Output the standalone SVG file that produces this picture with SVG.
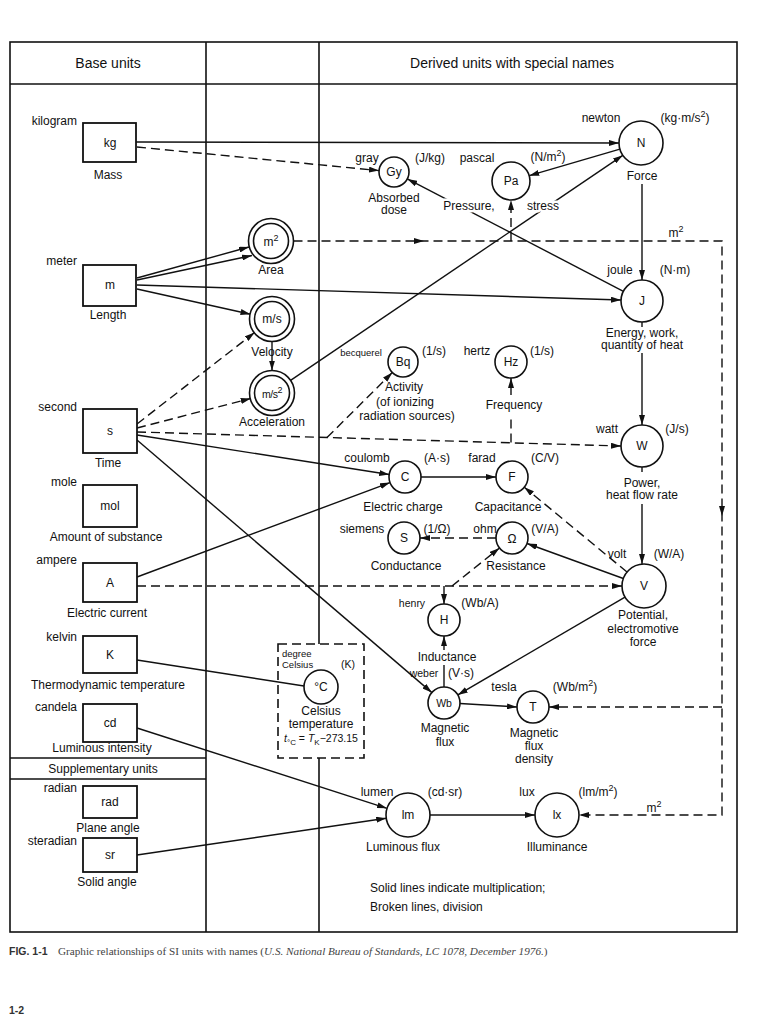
<svg xmlns="http://www.w3.org/2000/svg" width="768" height="1024" viewBox="0 0 768 1024">
<style>
text{font-family:"Liberation Sans","DejaVu Sans",sans-serif;font-size:12px;fill:#111}
.c{text-anchor:middle}
.e{text-anchor:end}
.h{font-size:14px}
.sm{font-size:10.5px}
.xs{font-size:9.5px}
.sup{font-size:9px}
.box{fill:#fff;stroke:#111;stroke-width:1.8}
.cir{fill:#fff;stroke:#111;stroke-width:1.6}
.fr{fill:none;stroke:#111;stroke-width:1.6}
.ln{fill:none;stroke:#111;stroke-width:1.4}
.ds{stroke-dasharray:9 5}
.halo{paint-order:stroke;stroke:#fff;stroke-width:5px;stroke-linejoin:round}
.ah{fill:#111;stroke:none}
</style>
<defs>
<marker id="a" viewBox="0 0 10 6" refX="10" refY="3" markerWidth="10" markerHeight="6" markerUnits="userSpaceOnUse" orient="auto">
<path d="M0,0 L10,3 L0,6 z" fill="#111"/>
</marker>
</defs>
<rect width="768" height="1024" fill="#fff"/>

<g id="frame">
<rect x="10" y="42" width="727" height="890" class="fr" stroke-width="1.8"/>
<line x1="10" y1="84" x2="737" y2="84" class="fr"/>
<line x1="206" y1="42" x2="206" y2="932" class="fr"/>
<line x1="319" y1="42" x2="319" y2="932" class="fr"/>
<line x1="10" y1="758" x2="206" y2="758" class="fr"/>
<line x1="10" y1="779" x2="206" y2="779" class="fr"/>
<text x="108" y="68" class="c h">Base units</text>
<text x="512" y="68" class="c h">Derived units with special names</text>
<text x="103" y="773" class="c">Supplementary units</text>
</g>

<g id="n-celsius">
<rect x="278" y="644" width="86" height="114" fill="#fff" stroke="#111" stroke-width="1.6" stroke-dasharray="9 5"/>
<text x="282" y="657" class="xs">degree</text>
<text x="282" y="668" class="xs">Celsius</text>
<text x="348" y="668" class="c sm">(K)</text>
<circle cx="321" cy="687" r="17" class="cir"/>
<text x="321" y="691" class="c">°C</text>
<text x="321" y="715" class="c">Celsius</text>
<text x="321" y="728" class="c">temperature</text>
<text x="321" y="742" class="c sm"><tspan font-style="italic">t</tspan><tspan font-size="8" dy="3">°C</tspan><tspan dy="-3"> = </tspan><tspan font-style="italic">T</tspan><tspan font-size="8" dy="3">K</tspan><tspan dy="-3">−273.15</tspan></text>
</g>

<g id="connectors">
<path class="ln" d="M136,142 L619,143" marker-end="url(#a)"/>
<path class="ln ds" d="M137,147 L379,170.6" marker-end="url(#a)"/>
<path class="ln" d="M137,278 L249,247" marker-end="url(#a)"/>
<path class="ln" d="M137,280 L252,255.5" marker-end="url(#a)"/>
<path class="ln" d="M137,285 L621,300" marker-end="url(#a)"/>
<path class="ln" d="M137,289 L250.5,314.2" marker-end="url(#a)"/>
<path class="ln" d="M272,341.5 L272,370.5" marker-end="url(#a)"/>
<path class="ln" d="M290.2,380.7 L622.8,155.3" marker-end="url(#a)"/>
<path class="ln" d="M619.9,149.2 L529.2,175.7" marker-end="url(#a)"/>
<path class="ln" d="M623.4,291.3 L407.3,178.9" marker-end="url(#a)"/>
<path class="ln" d="M642,184 L642,280" marker-end="url(#a)"/>
<path class="ln ds" d="M293.5,241 L722,241 L722,815 L579,815" marker-end="url(#a)"/>
<path class="ah" d="M414,238 L424,241 L414,244 z"/>
<path class="ah" d="M719,506 L722,516 L725,506 z"/>
<path class="ln ds" d="M511,241 L511,200" marker-end="url(#a)"/>
<path class="ln ds" d="M722,707 L549,707" marker-end="url(#a)"/>
<path class="ln ds" d="M137,424 L254.6,332.5" marker-end="url(#a)"/>
<path class="ln ds" d="M137,428 L250.7,398.5" marker-end="url(#a)"/>
<path class="ln ds" d="M137,432 L621,446" marker-end="url(#a)"/>
<path class="ln ds" d="M327,437.5 L392.3,372.6" marker-end="url(#a)"/>
<path class="ln ds" d="M511,442.5 L511,416"/>
<path class="ln" d="M511,395 L511,378" marker-end="url(#a)"/>
<path class="ln" d="M137,435 L389.2,474.5" marker-end="url(#a)"/>
<path class="ln" d="M137,440 L431.9,692.6" marker-end="url(#a)"/>
<path class="ln" d="M137,577 L390,482.6" marker-end="url(#a)"/>
<path class="ln ds" d="M137,586 L622,586" marker-end="url(#a)"/>
<path class="ln ds" d="M444,586 L444,604" marker-end="url(#a)"/>
<path class="ln ds" d="M452,586 L499.5,548" marker-end="url(#a)"/>
<path class="ln" d="M623.3,578.5 L527,543.5" marker-end="url(#a)"/>
<path class="ln ds" d="M627,572 L524.3,487.2" marker-end="url(#a)"/>
<path class="ln ds" d="M496,538 L420,538" marker-end="url(#a)"/>
<path class="ln" d="M421,477 L496,477" marker-end="url(#a)"/>
<path class="ln" d="M642,322 L642,327"/>
<path class="ln" d="M642,353 L642,425" marker-end="url(#a)"/>
<path class="ln" d="M642,467 L642,472"/>
<path class="ln" d="M642,504 L642,564" marker-end="url(#a)"/>
<path class="ln" d="M625,597.1 L457.8,694.9" marker-end="url(#a)"/>
<path class="ln" d="M444,687 L444,665"/>
<path class="ln" d="M444,650 L444,636" marker-end="url(#a)"/>
<path class="ln" d="M460,703.5 L517,707" marker-end="url(#a)"/>
<path class="ln" d="M137,660 L304,686"/>
<path class="ln" d="M137,728 L387,808.3" marker-end="url(#a)"/>
<path class="ln" d="M137,855 L386.2,818.2" marker-end="url(#a)"/>
<path class="ln" d="M430,815 L535,815" marker-end="url(#a)"/>
<text x="676" y="237" class="c">m<tspan class="sup" dy="-5">2</tspan></text>
<text x="654" y="812" class="c">m<tspan class="sup" dy="-5">2</tspan></text>
</g>

<g id="n-kg"><rect x="83" y="123" width="53" height="39" class="box"/><text x="77" y="125" class="e">kilogram</text><text x="110" y="147" class="c">kg</text><text x="108" y="179" class="c">Mass</text></g>
<g id="n-m"><rect x="83" y="265" width="53" height="41" class="box"/><text x="77" y="265" class="e">meter</text><text x="110" y="289" class="c">m</text><text x="108" y="319" class="c">Length</text></g>
<g id="n-s"><rect x="83" y="409" width="54" height="44" class="box"/><text x="77" y="411" class="e">second</text><text x="110" y="435" class="c">s</text><text x="108" y="467" class="c">Time</text></g>
<g id="n-mol"><rect x="83" y="485" width="54" height="42" class="box"/><text x="77" y="486" class="e">mole</text><text x="110" y="510" class="c">mol</text><text x="106" y="541" class="c">Amount of substance</text></g>
<g id="n-A"><rect x="83" y="563" width="54" height="39" class="box"/><text x="77" y="564" class="e">ampere</text><text x="110" y="587" class="c">A</text><text x="107" y="617" class="c">Electric current</text></g>
<g id="n-K"><rect x="83" y="636" width="54" height="37" class="box"/><text x="77" y="641" class="e">kelvin</text><text x="110" y="659" class="c">K</text><text x="108" y="689" class="c">Thermodynamic temperature</text></g>
<g id="n-cd"><rect x="83" y="704" width="54" height="38" class="box"/><text x="77" y="711" class="e">candela</text><text x="110" y="727" class="c">cd</text><text x="102" y="752" class="c">Luminous intensity</text></g>
<g id="n-rad"><rect x="83" y="786" width="54" height="32" class="box"/><text x="77" y="792" class="e">radian</text><text x="110" y="806" class="c">rad</text><text x="108" y="832" class="c">Plane angle</text></g>
<g id="n-sr"><rect x="83" y="838" width="54" height="34" class="box"/><text x="77" y="845" class="e">steradian</text><text x="110" y="859" class="c">sr</text><text x="107" y="886" class="c">Solid angle</text></g>

<g id="n-area"><circle cx="271" cy="241" r="22.5" class="cir"/><circle cx="271" cy="241" r="17.5" class="cir"/><text x="271" y="246" class="c">m<tspan class="sup" dy="-5">2</tspan></text><text x="271" y="274" class="c">Area</text></g>
<g id="n-vel"><circle cx="272" cy="319" r="22.5" class="cir"/><circle cx="272" cy="319" r="17.5" class="cir"/><text x="272" y="323" class="c">m/s</text><text x="272" y="356" class="c">Velocity</text></g>
<g id="n-acc"><circle cx="272" cy="393" r="22.5" class="cir"/><circle cx="272" cy="393" r="17.5" class="cir"/><text x="272" y="398" class="c sm" letter-spacing="-0.5">m/s<tspan class="sup" dy="-5">2</tspan></text><text x="272" y="426" class="c">Acceleration</text></g>

<g id="n-N"><circle cx="641" cy="143" r="22" class="cir"/><text x="641" y="147" class="c">N</text><text x="601" y="122" class="c">newton</text><text x="685" y="122" class="c">(kg·m/s<tspan class="sup" dy="-5">2</tspan><tspan dy="5">)</tspan></text><text x="642" y="180" class="c">Force</text></g>
<g id="n-Gy"><circle cx="394" cy="172" r="15" class="cir"/><text x="394" y="176" class="c">Gy</text><text x="367" y="162" class="c">gray</text><text x="430" y="162" class="c">(J/kg)</text><text x="394" y="202" class="c">Absorbed</text><text x="394" y="214" class="c">dose</text></g>
<g id="n-Pa"><circle cx="511" cy="181" r="19" class="cir"/><text x="511" y="185" class="c">Pa</text><text x="477" y="162" class="c">pascal</text><text x="548" y="161" class="c">(N/m<tspan class="sup" dy="-5">2</tspan><tspan dy="5">)</tspan></text><text x="469" y="210" class="c halo">Pressure,</text><text x="543" y="210" class="c halo">stress</text></g>
<g id="n-J"><circle cx="642" cy="301" r="21" class="cir"/><text x="642" y="305" class="c">J</text><text x="620" y="274" class="c">joule</text><text x="675" y="274" class="c">(N·m)</text><text x="642" y="337" class="c">Energy, work,</text><text x="642" y="349" class="c">quantity of heat</text></g>
<g id="n-Bq"><circle cx="403" cy="362" r="15" class="cir"/><text x="403" y="366" class="c">Bq</text><text x="361" y="356" class="c xs">becquerel</text><text x="434" y="355" class="c">(1/s)</text><text x="404" y="391" class="c">Activity</text><text x="405" y="406" class="c">(of ionizing</text><text x="407" y="420" class="c">radiation sources)</text></g>
<g id="n-Hz"><circle cx="511" cy="362" r="16" class="cir"/><text x="511" y="366" class="c">Hz</text><text x="477" y="355" class="c">hertz</text><text x="542" y="355" class="c">(1/s)</text><text x="514" y="409" class="c">Frequency</text></g>
<g id="n-W"><circle cx="642" cy="446" r="21" class="cir"/><text x="642" y="450" class="c">W</text><text x="607" y="433" class="c">watt</text><text x="677" y="433" class="c">(J/s)</text><text x="642" y="487" class="c">Power,</text><text x="642" y="499" class="c">heat flow rate</text></g>
<g id="n-C"><circle cx="405" cy="477" r="16" class="cir"/><text x="405" y="481" class="c">C</text><text x="367" y="462" class="c">coulomb</text><text x="437" y="462" class="c">(A·s)</text><text x="403" y="511" class="c">Electric charge</text></g>
<g id="n-F"><circle cx="512" cy="477" r="16" class="cir"/><text x="512" y="481" class="c">F</text><text x="482" y="462" class="c">farad</text><text x="545" y="462" class="c">(C/V)</text><text x="508" y="511" class="c">Capacitance</text></g>
<g id="n-S"><circle cx="404" cy="538" r="16" class="cir"/><text x="404" y="542" class="c">S</text><text x="362" y="533" class="c">siemens</text><text x="437" y="533" class="c">(1/Ω)</text><text x="406" y="570" class="c">Conductance</text></g>
<g id="n-ohm"><circle cx="512" cy="538" r="16" class="cir"/><text x="512" y="543" class="c" font-size="14">Ω</text><text x="485" y="533" class="c">ohm</text><text x="545" y="533" class="c">(V/A)</text><text x="516" y="570" class="c">Resistance</text></g>
<g id="n-V"><circle cx="644" cy="586" r="22" class="cir"/><text x="644" y="590" class="c">V</text><text x="617" y="558" class="c">volt</text><text x="669" y="558" class="c">(W/A)</text><text x="643" y="619" class="c">Potential,</text><text x="643" y="633" class="c">electromotive</text><text x="643" y="646" class="c">force</text></g>
<g id="n-H"><circle cx="444" cy="620" r="16" class="cir"/><text x="444" y="624" class="c">H</text><text x="412" y="607" class="c sm">henry</text><text x="480" y="607" class="c">(Wb/A)</text><text x="447" y="661" class="c">Inductance</text></g>
<g id="n-Wb"><circle cx="444" cy="703" r="16" class="cir"/><text x="444" y="707" class="c sm">Wb</text><text x="424" y="677" class="c sm">weber</text><text x="461" y="677" class="c">(V·s)</text><text x="445" y="732" class="c">Magnetic</text><text x="445" y="746" class="c">flux</text></g>
<g id="n-T"><circle cx="533" cy="707" r="16" class="cir"/><text x="533" y="711" class="c">T</text><text x="504" y="691" class="c">tesla</text><text x="575" y="691" class="c">(Wb/m<tspan class="sup" dy="-5">2</tspan><tspan dy="5">)</tspan></text><text x="534" y="737" class="c">Magnetic</text><text x="534" y="750" class="c">flux</text><text x="534" y="763" class="c">density</text></g>
<g id="n-lm"><circle cx="408" cy="815" r="22" class="cir"/><text x="408" y="819" class="c">lm</text><text x="377" y="796" class="c">lumen</text><text x="445" y="796" class="c">(cd·sr)</text><text x="403" y="851" class="c">Luminous flux</text></g>
<g id="n-lx"><circle cx="557" cy="815" r="22" class="cir"/><text x="557" y="819" class="c">lx</text><text x="527" y="796" class="c">lux</text><text x="598" y="796" class="c">(lm/m<tspan class="sup" dy="-5">2</tspan><tspan dy="5">)</tspan></text><text x="557" y="851" class="c">Illuminance</text></g>

<g id="legend">
<text x="370" y="892">Solid lines indicate multiplication;</text>
<text x="370" y="911">Broken lines, division</text>
</g>

<g id="caption">
<text x="9" y="955" style="font-size:10.5px;font-weight:bold;fill:#333">FIG. 1-1</text>
<text x="58" y="955" style="font-family:'Liberation Serif','DejaVu Serif',serif;font-size:11.2px;fill:#444">Graphic relationships of SI units with names (<tspan font-style="italic">U.S. National Bureau of Standards, LC 1078, December 1976.</tspan>)</text>
<text x="9" y="1014" style="font-size:10.5px;font-weight:bold;fill:#333">1-2</text>
</g>
</svg>
